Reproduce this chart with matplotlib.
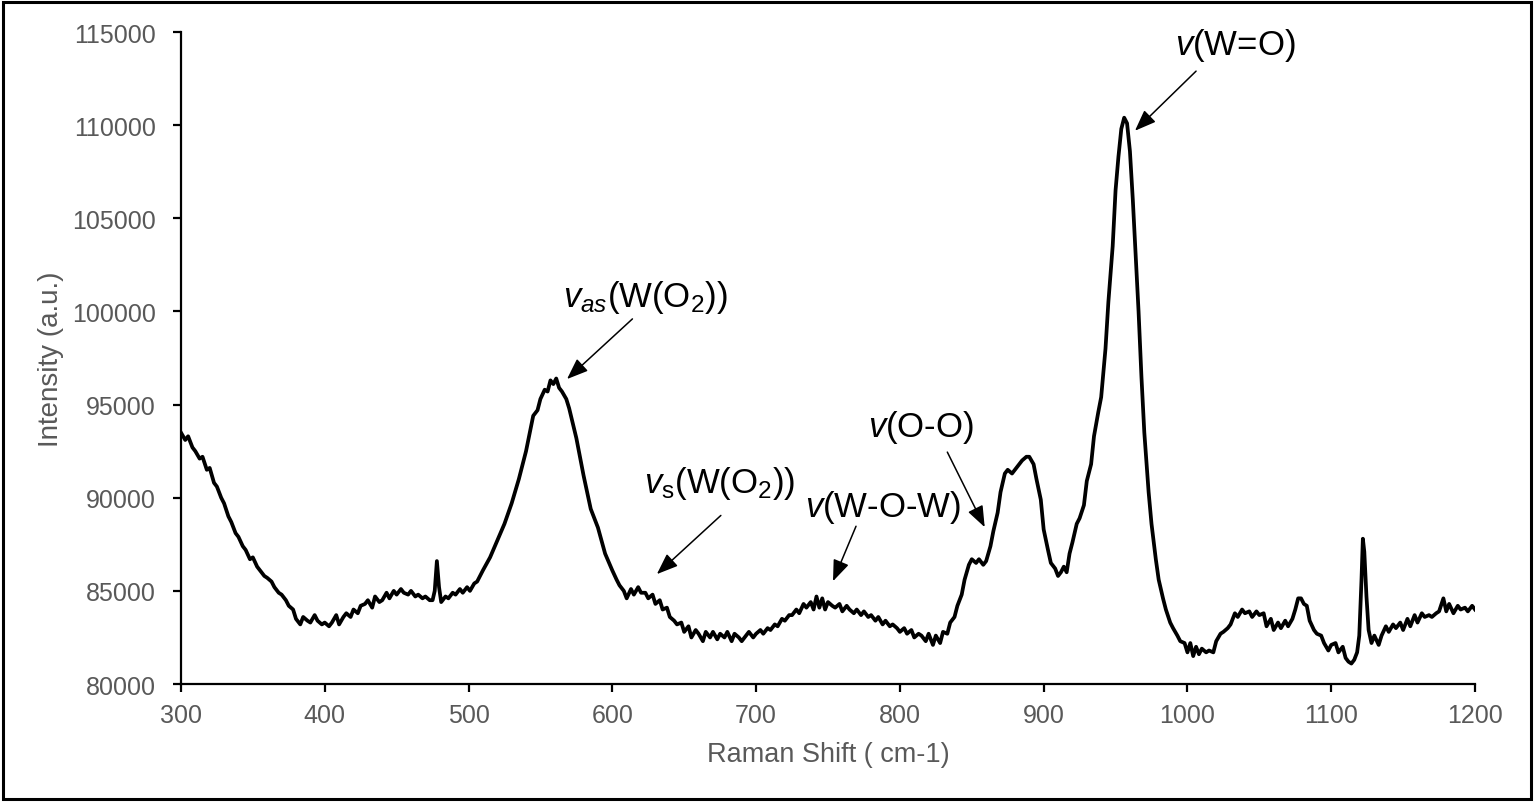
"""
Raman spectrum of the peroxo-tungstate sample with band assignments
"""
import matplotlib
matplotlib.use("Agg")
import matplotlib.pyplot as plt
from matplotlib.patches import Rectangle

plt.rcParams['font.family'] = ['Liberation Sans', 'DejaVu Sans']
plt.rcParams['mathtext.fontset'] = 'custom'
plt.rcParams['mathtext.rm'] = 'Liberation Sans'
plt.rcParams['mathtext.it'] = 'Liberation Sans:italic'

# Raman shift (cm-1) and intensity (a.u.), row by row
shift = [300, 303, 305, 308, 310, 313, 315, 318, 320, 323, 325, 328, 330, 333, 335, 338,
         340, 343, 345, 348, 350, 353, 355, 358, 360, 363, 365, 368, 370, 373, 375, 378,
         380, 383, 385, 388, 390, 393, 395, 398, 400, 403, 405, 408, 410, 413, 415, 418,
         420, 423, 425, 428, 430, 433, 435, 438, 440, 443, 445, 448, 450, 453, 455, 458,
         460, 463, 465, 468, 470, 473, 475, 476.5, 478, 479.5, 481, 484, 486, 489, 491, 494,
         496, 499, 501, 504, 506, 510, 515, 520, 525, 530, 535, 540, 545, 548, 550, 553,
         555, 557, 559, 561, 563, 565, 568, 570, 575, 580, 585, 590, 595, 600, 603, 605,
         608, 610, 613, 615, 618, 620, 623, 625, 628, 630, 633, 635, 638, 640, 643, 645,
         648, 650, 653, 655, 658, 660, 663, 665, 668, 670, 673, 675, 678, 680, 683, 685,
         688, 690, 693, 695, 698, 700, 703, 705, 708, 710, 713, 715, 718, 720, 723, 725,
         728, 730, 733, 735, 738, 740, 742, 744, 746, 748, 750, 753, 755, 758, 760, 763,
         765, 768, 770, 773, 775, 778, 780, 783, 785, 788, 790, 793, 795, 798, 800, 803,
         805, 808, 810, 813, 815, 818, 820, 823, 825, 828, 830, 833, 835, 838, 840, 843,
         845, 848, 850, 853, 855, 858, 860, 863, 865, 868, 870, 873, 875, 878, 880, 883,
         885, 888, 890, 893, 895, 898, 900, 903, 905, 908, 910, 912, 914, 916, 918, 920,
         923, 925, 928, 930, 933, 935, 938, 940, 943, 945, 948, 950, 952, 954, 956, 958,
         960, 962, 964, 966, 968, 970, 973, 975, 978, 980, 983, 985, 988, 990, 993, 995,
         998, 1000, 1002, 1004, 1006, 1008, 1010, 1013, 1015, 1018, 1020, 1023, 1025, 1028, 1030, 1033,
         1035, 1038, 1040, 1043, 1045, 1048, 1050, 1053, 1055, 1058, 1060, 1063, 1065, 1068, 1070, 1073,
         1075, 1077, 1079, 1081, 1083, 1085, 1088, 1090, 1093, 1095, 1098, 1100, 1103, 1105, 1108, 1110,
         1112, 1114, 1116, 1118, 1119.5, 1121, 1122, 1123, 1124.5, 1126, 1128, 1130, 1133, 1135, 1138, 1140,
         1143, 1145, 1148, 1150, 1153, 1155, 1158, 1160, 1163, 1165, 1168, 1170, 1173, 1175, 1178, 1180,
         1182, 1185, 1188, 1190, 1193, 1195, 1198, 1200]
intensity = [93500, 93100, 93300, 92700, 92500, 92100, 92200, 91500, 91600, 90800, 90600, 90000, 89700, 89000, 88700, 88100,
             87900, 87400, 87200, 86700, 86800, 86300, 86100, 85800, 85700, 85500, 85200, 84900, 84800, 84500, 84200, 84000,
             83500, 83200, 83600, 83400, 83300, 83700, 83400, 83200, 83300, 83100, 83300, 83700, 83200, 83600, 83800, 83600,
             84000, 83800, 84200, 84300, 84500, 84100, 84700, 84400, 84500, 84900, 84600, 85000, 84800, 85100, 84900, 84800,
             85000, 84700, 84800, 84600, 84700, 84500, 84500, 85000, 86600, 85200, 84400, 84700, 84600, 84900, 84800, 85100,
             84900, 85200, 85000, 85400, 85500, 86100, 86800, 87700, 88600, 89700, 91000, 92500, 94400, 94700, 95300, 95800,
             95700, 96300, 96100, 96400, 95900, 95700, 95300, 94800, 93200, 91200, 89400, 88400, 87000, 86100, 85600, 85300,
             85000, 84600, 85100, 84800, 85200, 84900, 84900, 84600, 84800, 84300, 84500, 84000, 84100, 83600, 83400, 83200,
             83300, 82800, 83100, 82500, 82900, 82700, 82300, 82800, 82500, 82800, 82400, 82700, 82500, 82800, 82300, 82700,
             82500, 82300, 82600, 82800, 82500, 82700, 82900, 82700, 83000, 82900, 83200, 83100, 83500, 83400, 83700, 83700,
             84000, 83800, 84300, 84100, 84400, 84000, 84700, 84100, 84600, 84000, 84400, 84200, 84100, 84300, 83900, 84200,
             84000, 83800, 84000, 83700, 83900, 83600, 83700, 83400, 83600, 83200, 83400, 83100, 83200, 83000, 82800, 83000,
             82700, 82900, 82500, 82700, 82600, 82300, 82700, 82100, 82600, 82200, 82800, 82700, 83300, 83600, 84200, 84800,
             85600, 86400, 86700, 86500, 86700, 86400, 86600, 87400, 88200, 89200, 90300, 91300, 91500, 91300, 91500, 91800,
             92000, 92200, 92200, 91800, 91000, 89900, 88300, 87200, 86500, 86200, 85800, 86000, 86300, 86000, 87000, 87600,
             88600, 88900, 89600, 90900, 91800, 93300, 94600, 95400, 98000, 100500, 103500, 106500, 108300, 109800, 110400, 110100,
             108600, 106000, 103000, 100000, 96500, 93500, 90300, 88600, 86700, 85600, 84600, 84000, 83300, 83000, 82600, 82300,
             82200, 81700, 82200, 81500, 82000, 81600, 81900, 81700, 81800, 81700, 82300, 82700, 82800, 83000, 83200, 83800,
             83600, 84000, 83800, 83900, 83600, 83900, 83700, 83800, 83100, 83500, 82900, 83300, 83000, 83400, 83100, 83500,
             84000, 84600, 84600, 84300, 84200, 83400, 82900, 82700, 82600, 82200, 81800, 82100, 82200, 81700, 82000, 81400,
             81200, 81100, 81300, 81700, 82600, 85500, 87800, 87100, 84700, 82900, 82200, 82600, 82100, 82600, 83100, 82800,
             83200, 83000, 83300, 82900, 83500, 83100, 83700, 83300, 83800, 83600, 83700, 83600, 83800, 83900, 84600, 83900,
             84300, 83800, 84200, 84000, 84100, 83900, 84200, 84000]

# band labels: text centre, arrow start, arrow tip (data coords)
labels = [r'$v$(W=O)', r'$v_{as}$(W(O$_2$))', r'$v_{\mathrm{s}}$(W(O$_2$))', r'$v$(W-O-W)', r'$v$(O-O)']
label_pos = [(1033, 114350), (623, 100800), (675, 90830), (788, 89550), (815, 93850)]
arrow_from = [(1006, 112900), (614, 99600), (675.5, 89050), (769.5, 88470), (833, 92450)]
arrow_to = [(963.5, 109700), (568.5, 96370), (631, 85900), (753.5, 85520), (859, 88420)]

fig = plt.figure(figsize=(15.36, 8.03), dpi=100)
ax = fig.add_axes([0.1178, 0.1469, 0.8425, 0.812])

ax.plot(shift, intensity, color='black', linewidth=2.7, solid_joinstyle='round')

ax.set_xlim(300, 1200)
ax.set_ylim(80000, 115000)
ax.set_xticks(range(300, 1201, 100))
ax.set_yticks(range(80000, 115001, 5000))

for side in ['top', 'right']:
    ax.spines[side].set_visible(False)
for side in ['left', 'bottom']:
    ax.spines[side].set_linewidth(1.6)
    ax.spines[side].set_color('black')
ax.tick_params(direction='out', length=6, width=1.6, colors='black',
               labelcolor='#595959', labelsize=18)
ax.tick_params(axis='y', pad=12)
ax.tick_params(axis='x', pad=8)

ax.set_xlabel('Raman Shift ( cm-1)', fontsize=19.5, color='#595959', labelpad=10)
ax.set_ylabel('Intensity (a.u.)', fontsize=20, color='#595959', labelpad=6)

for txt, pos, start, tip in zip(labels, label_pos, arrow_from, arrow_to):
    ax.text(pos[0], pos[1], txt, fontsize=25, color='black', ha='center', va='center')
    ax.annotate('', xy=tip, xytext=start,
                arrowprops=dict(arrowstyle='-|>,head_length=1.3,head_width=0.5',
                                color='black', lw=1.1, shrinkA=0, shrinkB=0))

# thin frame around the whole figure
fig.patches.append(Rectangle((0.002, 0.004), 0.995, 0.992, transform=fig.transFigure,
                             fill=False, edgecolor='black', linewidth=2.2))

fig.savefig('out.png', dpi=100)
